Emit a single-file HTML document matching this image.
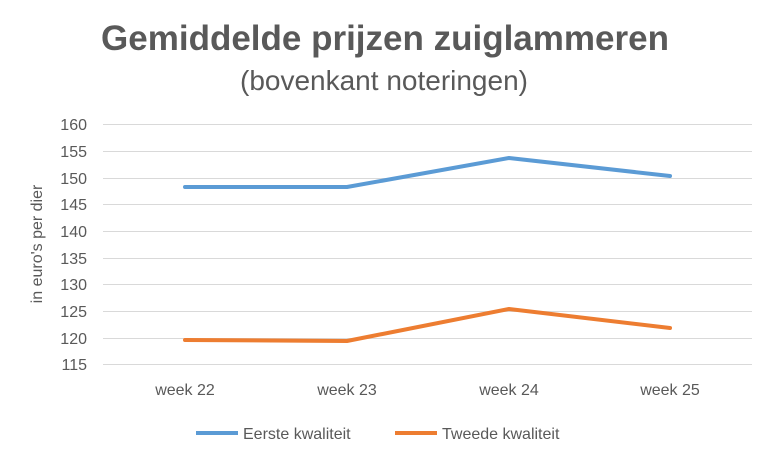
<!DOCTYPE html>
<html><head><meta charset="utf-8"><style>
body{margin:0;background:#fff;}
svg{display:block;font-family:"Liberation Sans",sans-serif;}
</style></head><body>
<svg width="766" height="455" viewBox="0 0 766 455">
<rect width="766" height="455" fill="#fff"/>
<text x="385" y="50" text-anchor="middle" font-size="35" font-weight="bold" fill="#595959">Gemiddelde prijzen zuiglammeren</text>
<text x="384" y="90" text-anchor="middle" font-size="28" fill="#595959">(bovenkant noteringen)</text>
<g stroke="#d9d9d9" stroke-width="1">
<line x1="103" x2="752" y1="124.5" y2="124.5"/>
<line x1="103" x2="752" y1="151.5" y2="151.5"/>
<line x1="103" x2="752" y1="178.5" y2="178.5"/>
<line x1="103" x2="752" y1="204.5" y2="204.5"/>
<line x1="103" x2="752" y1="231.5" y2="231.5"/>
<line x1="103" x2="752" y1="258.5" y2="258.5"/>
<line x1="103" x2="752" y1="284.5" y2="284.5"/>
<line x1="103" x2="752" y1="311.5" y2="311.5"/>
<line x1="103" x2="752" y1="338.5" y2="338.5"/>
<line x1="103" x2="752" y1="364.5" y2="364.5"/>
</g>
<g font-size="16" fill="#595959" text-anchor="end">
<text x="87" y="130">160</text><text x="87" y="157">155</text><text x="87" y="184">150</text>
<text x="87" y="210">145</text><text x="87" y="237">140</text><text x="87" y="264">135</text>
<text x="87" y="290">130</text><text x="87" y="317">125</text><text x="87" y="344">120</text>
<text x="87" y="370">115</text>
</g>
<text transform="translate(42,244) rotate(-90)" text-anchor="middle" font-size="16" fill="#595959">in euro's per dier</text>
<g font-size="16" fill="#595959" text-anchor="middle">
<text x="185" y="395">week 22</text><text x="347" y="395">week 23</text>
<text x="509" y="395">week 24</text><text x="670" y="395">week 25</text>
</g>
<polyline points="185,187 347,187 509,158 670,176" fill="none" stroke="#5b9bd5" stroke-width="4" stroke-linejoin="round" stroke-linecap="round"/>
<polyline points="185,340 347,341 509,309 670,328" fill="none" stroke="#ed7d31" stroke-width="4" stroke-linejoin="round" stroke-linecap="round"/>
<line x1="196" x2="238" y1="433" y2="433" stroke="#5b9bd5" stroke-width="4"/>
<text x="243" y="439" font-size="16" fill="#595959">Eerste kwaliteit</text>
<line x1="395" x2="437" y1="433" y2="433" stroke="#ed7d31" stroke-width="4"/>
<text x="442" y="439" font-size="16" fill="#595959">Tweede kwaliteit</text>
</svg>
</body></html>
